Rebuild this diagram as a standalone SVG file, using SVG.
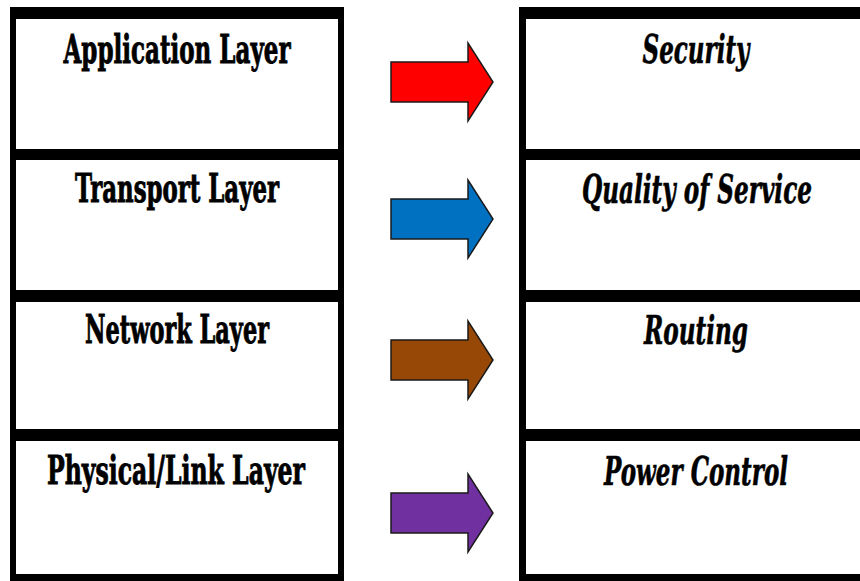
<svg xmlns="http://www.w3.org/2000/svg" xmlns:xlink="http://www.w3.org/1999/xlink" width="860" height="581" viewBox="0 0 860 581">
  <style>
    .frame { fill: #000000; }
    .cell { fill: #ffffff; }
    .layer { font-family: "DejaVu Serif Condensed", "DejaVu Serif", "Liberation Serif", serif; font-weight: bold; font-size: 40px; fill: #000000; stroke: #000000; stroke-width: 0.9; }
    .func { font-family: "DejaVu Serif Condensed", "DejaVu Serif", "Liberation Serif", serif; font-weight: bold; font-style: italic; font-size: 40px; fill: #000000; stroke: #000000; stroke-width: 0.6; }
    .arrow { stroke: #1a1a1a; stroke-width: 1.5; stroke-linejoin: miter; }
  </style>
  <defs>
    <!-- block arrow centred on y=0 -->
    <path id="blockArrow" d="M391,-20 H468 V-39 L493,0 L468,39 V20 H391 Z"/>
  </defs>

  <rect width="860" height="581" fill="#ffffff"/>

  <!-- column frames -->
  <rect class="frame" x="10" y="7" width="334" height="574"/>
  <rect class="frame" x="519" y="7" width="341" height="574"/>

  <!-- protocol layers -->
  <g id="application-layer">
    <rect class="cell" x="16" y="19" width="322" height="130"/>
    <text class="layer" x="177" y="63" text-anchor="middle" textLength="227" lengthAdjust="spacingAndGlyphs">Application Layer</text>
  </g>
  <g id="transport-layer">
    <rect class="cell" x="16" y="160" width="322" height="130"/>
    <text class="layer" x="177" y="202" text-anchor="middle" textLength="204" lengthAdjust="spacingAndGlyphs">Transport Layer</text>
  </g>
  <g id="network-layer">
    <rect class="cell" x="16" y="302" width="322" height="127"/>
    <text class="layer" x="177" y="343" text-anchor="middle" textLength="184" lengthAdjust="spacingAndGlyphs">Network Layer</text>
  </g>
  <g id="physical-link-layer">
    <rect class="cell" x="16" y="441" width="322" height="133"/>
    <text class="layer" x="176" y="484" text-anchor="middle" textLength="258" lengthAdjust="spacingAndGlyphs">Physical/Link Layer</text>
  </g>

  <!-- cross-layer functions -->
  <g id="security">
    <rect class="cell" x="526" y="19" width="334" height="130"/>
    <text class="func" x="696" y="63" text-anchor="middle" textLength="107" lengthAdjust="spacingAndGlyphs">Security</text>
  </g>
  <g id="quality-of-service">
    <rect class="cell" x="526" y="160" width="334" height="130"/>
    <text class="func" x="697" y="203" text-anchor="middle" textLength="230" lengthAdjust="spacingAndGlyphs">Quality of Service</text>
  </g>
  <g id="routing">
    <rect class="cell" x="526" y="302" width="334" height="127"/>
    <text class="func" x="696" y="344" text-anchor="middle" textLength="104" lengthAdjust="spacingAndGlyphs">Routing</text>
  </g>
  <g id="power-control">
    <rect class="cell" x="526" y="441" width="334" height="133"/>
    <text class="func" x="696" y="485" text-anchor="middle" textLength="184" lengthAdjust="spacingAndGlyphs">Power Control</text>
  </g>

  <!-- connectors -->
  <g id="connectors">
    <use xlink:href="#blockArrow" href="#blockArrow" class="arrow" fill="#ff0000" transform="translate(0,82)"/>
    <use xlink:href="#blockArrow" href="#blockArrow" class="arrow" fill="#0070c0" transform="translate(0,219)"/>
    <use xlink:href="#blockArrow" href="#blockArrow" class="arrow" fill="#974806" transform="translate(0,360)"/>
    <use xlink:href="#blockArrow" href="#blockArrow" class="arrow" fill="#7030a0" transform="translate(0,513)"/>
  </g>
</svg>
